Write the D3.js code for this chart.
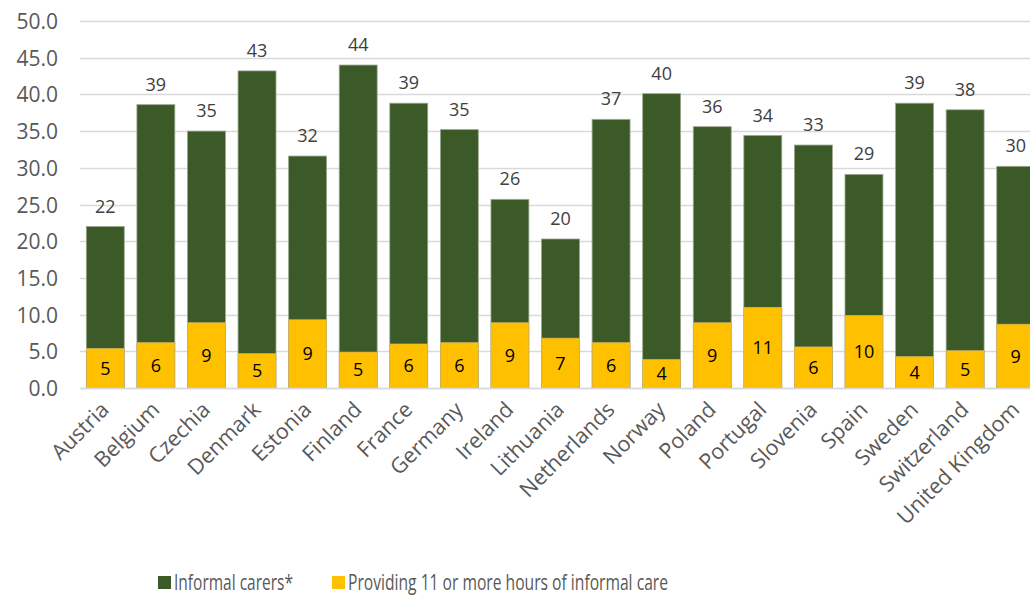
<!DOCTYPE html>
<html>
<head>
<meta charset="utf-8">
<script src="https://cdn.jsdelivr.net/npm/d3@7"></script>
<style>
  html, body { margin: 0; padding: 0; background: #fff; }
  svg { display: block; font-family: "Open Sans", "Noto Sans", sans-serif; }
</style>
</head>
<body>
<svg id="chart" width="1030" height="597"></svg>
<script>
const categories = ["Austria","Belgium","Czechia","Denmark","Estonia","Finland","France","Germany","Ireland","Lithuania","Netherlands","Norway","Poland","Portugal","Slovenia","Spain","Sweden","Switzerland","United Kingdom"];
const informalCarers = [22.0,38.6,35.0,43.2,31.6,44.0,38.8,35.2,25.7,20.3,36.6,40.1,35.6,34.4,33.1,29.1,38.8,37.9,30.2];
const elevenPlusHours = [5.4,6.2,8.9,4.7,9.3,4.9,6.0,6.2,8.9,6.8,6.2,3.9,8.9,11.0,5.6,9.9,4.3,5.1,8.7];
const yTicks = [0,5,10,15,20,25,30,35,40,45,50];
const seriesNames = ["Informal carers*","Providing 11 or more hours of informal care"];

(function () {
const svg = d3.select("#chart");
const pLeft = 80, pRight = 1041, pTop = 21, pBottom = 388;

const x = d3.scaleBand().domain(categories).range([pLeft, pRight]).paddingInner(0.25).paddingOuter(0.125);
const y = d3.scaleLinear().domain([0, 50]).range([pBottom, pTop]);

// gridlines
svg.append("g").selectAll("line").data(yTicks).join("line")
  .attr("x1", pLeft).attr("x2", 1030)
  .attr("y1", d => Math.round(y(d)) + 0.5).attr("y2", d => Math.round(y(d)) + 0.5)
  .attr("stroke", "#d9d9d9").attr("stroke-width", 1.3);

// y axis labels
const yAxis = d3.axisLeft(y).tickValues(yTicks).tickFormat(d3.format(".1f")).tickSize(0).tickPadding(0);
const ya = svg.append("g").attr("transform", "translate(58,0)").call(yAxis);
ya.select(".domain").remove();
ya.selectAll("text").attr("fill", "#595959").style("font-size", "21px").style("font-family", "'Open Sans', sans-serif").attr("dy", "0.36em");

// green bars
svg.append("g").selectAll("rect").data(categories).join("rect")
  .attr("x", d => x(d)).attr("width", x.bandwidth())
  .attr("y", (d,i) => y(informalCarers[i]))
  .attr("height", (d,i) => y(0) - y(informalCarers[i]))
  .attr("fill", "#3b5a27").attr("stroke", "#9aa78f").attr("stroke-width", 0.8);

// yellow bars
svg.append("g").selectAll("rect").data(categories).join("rect")
  .attr("x", d => x(d)).attr("width", x.bandwidth())
  .attr("y", (d,i) => y(elevenPlusHours[i]))
  .attr("height", (d,i) => y(0) - y(elevenPlusHours[i]))
  .attr("fill", "#ffc000").attr("stroke", "#c9b070").attr("stroke-width", 0.6);

// green value labels
svg.append("g").selectAll("text").data(categories).join("text")
  .attr("x", d => x(d) + x.bandwidth()/2)
  .attr("y", (d,i) => y(informalCarers[i]) - 14)
  .attr("text-anchor", "middle").attr("fill", "#404040").style("font-size", "18px")
  .text((d,i) => d3.format(".0f")(informalCarers[i]));

// yellow value labels
svg.append("g").selectAll("text").data(categories).join("text")
  .attr("x", d => x(d) + x.bandwidth()/2)
  .attr("y", (d,i) => (y(elevenPlusHours[i]) + y(0))/2)
  .attr("dy", "0.36em")
  .attr("text-anchor", "middle").attr("fill", "#000").style("font-size", "18px")
  .text((d,i) => d3.format(".0f")(elevenPlusHours[i]));

// baseline axis
svg.append("line").attr("x1", pLeft).attr("x2", 1030).attr("y1", pBottom + 0.5).attr("y2", pBottom + 0.5)
  .attr("stroke", "#d9d9d9").attr("stroke-width", 1.5);

// x axis labels
const xa = svg.append("g").attr("transform", `translate(0,${pBottom})`)
  .call(d3.axisBottom(x).tickSize(0).tickPadding(0));
xa.select(".domain").remove();
xa.selectAll("text")
  .attr("fill", "#595959").style("font-size", "21.5px").style("font-family", "'Open Sans', sans-serif")
  .attr("text-anchor", "end")
  .attr("dy", null).attr("y", 0)
  .attr("transform", "translate(5,23) rotate(-45)");

// legend
const legend = svg.append("g");
const legX = [158, 332];
const legColors = ["#3b5a27", "#ffc000"];
const legLens = [119, 320];
seriesNames.forEach((n, i) => {
  legend.append("rect").attr("x", legX[i]).attr("y", 576).attr("width", 13).attr("height", 13).attr("fill", legColors[i]);
  legend.append("text").attr("x", legX[i] + 16).attr("y", 590)
    .attr("fill", "#595959").style("font-size", "21px")
    .attr("textLength", legLens[i]).attr("lengthAdjust", "spacingAndGlyphs")
    .text(n);
});
})();
</script>
</body>
</html>
